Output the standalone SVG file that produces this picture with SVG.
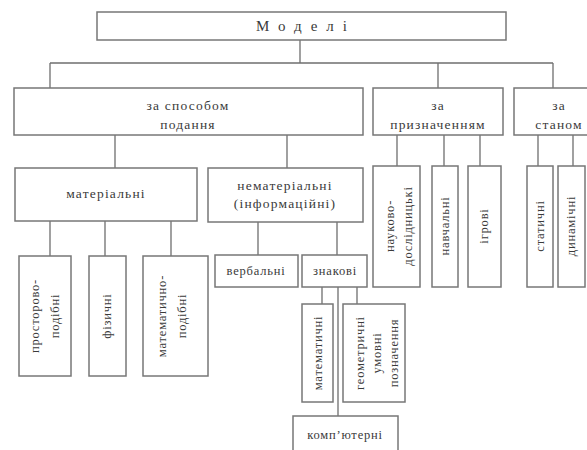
<svg xmlns="http://www.w3.org/2000/svg" width="587" height="450" viewBox="0 0 587 450">
<style>
  .box { fill: #ffffff; stroke: #777777; stroke-width: 1.5; }
  .ln { stroke: #6f6f6f; stroke-width: 1.3; fill: none; }
  .t { font-family: 'Liberation Serif', 'Times New Roman', 'DejaVu Serif', serif; font-size: 13.5px; fill: #3a3a3a; text-anchor: middle; letter-spacing: 1.2px; }
  .s { font-size: 12.5px; letter-spacing: 0.8px; }
  .title { font-size: 15px; letter-spacing: 9px; }
</style>
<rect width="587" height="450" fill="#ffffff"/>
<g id="connectors">
  <path class="ln" d="M300,40 V63 M50,63 H553 M50,63 V88 M438,63 V88 M553,63 V88"/>
  <path class="ln" d="M115,135 V168 M287,135 V168"/>
  <path class="ln" d="M397,135 V166 M444,135 V166 M480,135 V166"/>
  <path class="ln" d="M538,135 V166 M573,135 V166"/>
  <path class="ln" d="M50,221 V256 M105,221 V256 M171,221 V256"/>
  <path class="ln" d="M258,221 V255 M337,221 V255"/>
  <path class="ln" d="M322,287 V304 M357,287 V304 M338,287 V416"/>
</g>
<g id="n-models">
  <rect class="box" x="97" y="12" width="409" height="28"/>
  <text class="t title" x="306" y="31">Моделі</text>
</g>
<g id="n-sposob">
  <rect class="box" x="14" y="88" width="349" height="47"/>
  <text class="t" x="188" y="110">за способом</text>
  <text class="t" x="188" y="129">подання</text>
</g>
<g id="n-pryznach">
  <rect class="box" x="373" y="88" width="130" height="47"/>
  <text class="t" x="438" y="110">за</text>
  <text class="t" x="438" y="129">призначенням</text>
</g>
<g id="n-stan">
  <rect class="box" x="514" y="88" width="90" height="47"/>
  <text class="t" x="559" y="110">за</text>
  <text class="t" x="559" y="129">станом</text>
</g>
<g id="n-material">
  <rect class="box" x="15" y="168" width="182" height="53"/>
  <text class="t" x="106" y="198">матеріальні</text>
</g>
<g id="n-nematerial">
  <rect class="box" x="208" y="168" width="155" height="54"/>
  <text class="t" x="285" y="190">нематеріальні</text>
  <text class="t" x="285" y="208">(інформаційні)</text>
</g>
<g id="n-prostor">
  <rect class="box" x="19" y="256" width="52" height="120"/>
  <g transform="translate(45,316) rotate(-90)">
    <text class="t s" x="0" y="-6">просторово-</text>
    <text class="t s" x="0" y="14">подібні</text>
  </g>
</g>
<g id="n-fiz">
  <rect class="box" x="89" y="256" width="37" height="120"/>
  <text class="t s" transform="translate(107,316) rotate(-90)" x="0" y="4">фізичні</text>
</g>
<g id="n-mat-pod">
  <rect class="box" x="143" y="256" width="65" height="120"/>
  <g transform="translate(172,316) rotate(-90)">
    <text class="t s" x="0" y="-6">математично-</text>
    <text class="t s" x="0" y="14">подібні</text>
  </g>
</g>
<g id="n-verbal">
  <rect class="box" x="215" y="255" width="83" height="32"/>
  <text class="t s" x="256" y="275">вербальні</text>
</g>
<g id="n-znak">
  <rect class="box" x="302" y="255" width="65" height="32"/>
  <text class="t s" x="335" y="275">знакові</text>
</g>
<g id="n-matem">
  <rect class="box" x="302" y="304" width="31" height="98"/>
  <text class="t s" transform="translate(318,353) rotate(-90)" x="0" y="4">математичні</text>
</g>
<g id="n-geom">
  <rect class="box" x="343" y="304" width="62" height="98"/>
  <g transform="translate(377,353) rotate(-90)">
    <text class="t s" x="0" y="-13">геометричні</text>
    <text class="t s" x="0" y="4">умовні</text>
    <text class="t s" x="0" y="21">позначення</text>
  </g>
</g>
<g id="n-komp">
  <rect class="box" x="293" y="416" width="105" height="40"/>
  <text class="t s" x="345" y="439">комп’ютерні</text>
</g>
<g id="n-nauk">
  <rect class="box" x="373" y="166" width="47" height="121"/>
  <g transform="translate(398,226) rotate(-90)">
    <text class="t s" x="0" y="-4">науково-</text>
    <text class="t s" x="0" y="14">дослідницькі</text>
  </g>
</g>
<g id="n-navch">
  <rect class="box" x="432" y="166" width="26" height="121"/>
  <text class="t s" transform="translate(445,226) rotate(-90)" x="0" y="4">навчальні</text>
</g>
<g id="n-igr">
  <rect class="box" x="468" y="166" width="33" height="121"/>
  <text class="t s" transform="translate(484,226) rotate(-90)" x="0" y="4">ігрові</text>
</g>
<g id="n-stat">
  <rect class="box" x="527" y="166" width="26" height="121"/>
  <text class="t s" transform="translate(540,226) rotate(-90)" x="0" y="4">статичні</text>
</g>
<g id="n-dyn">
  <rect class="box" x="558" y="166" width="27" height="121"/>
  <text class="t s" transform="translate(571,226) rotate(-90)" x="0" y="4">динамічні</text>
</g>
</svg>
